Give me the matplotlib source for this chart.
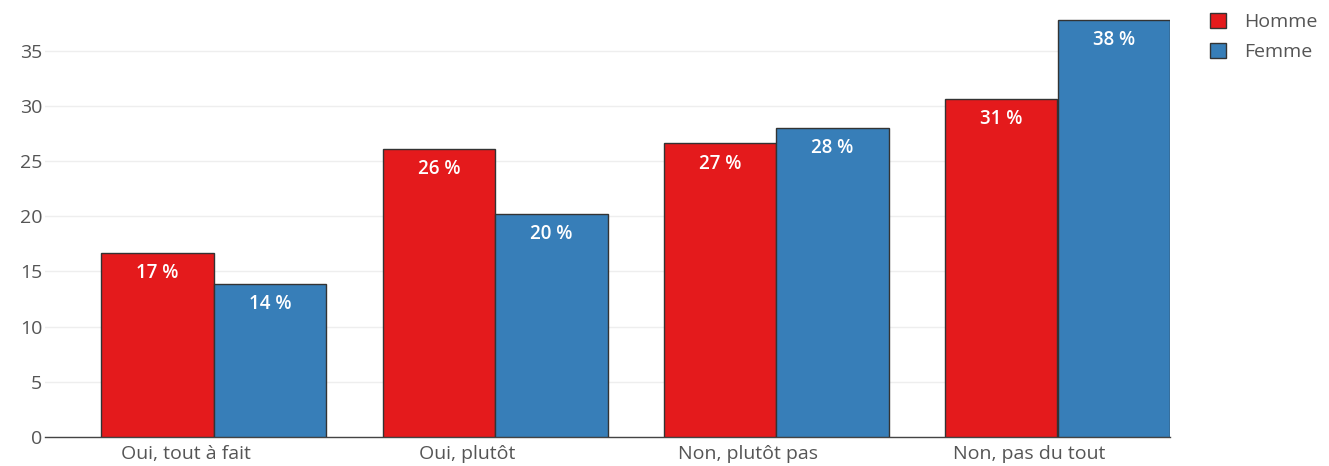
import matplotlib
matplotlib.use("Agg")
import matplotlib.pyplot as plt
import matplotlib.transforms as mtransforms
import numpy as np

categories = ["Oui, tout à fait", "Oui, plutôt", "Non, plutôt pas", "Non, pas du tout"]
homme = [16.7, 26.1, 26.6, 30.6]
femme = [13.9, 20.2, 28.0, 37.8]
series_names = ["Homme", "Femme"]
colors = ["#E41A1C", "#377EB8"]
yticks = [0, 5, 10, 15, 20, 25, 30, 35]

plt.rcParams['font.family'] = ['Open Sans', 'DejaVu Sans']
W, H = 1329, 466
fig = plt.figure(figsize=(W/100, H/100), dpi=100)
ax = fig.add_axes([45/W, 29/H, (1170-45)/W, (437)/H])

x = np.arange(len(categories))
bw = 0.4
for i, (vals, name, c) in enumerate(zip([homme, femme], series_names, colors)):
    pos = x - bw/2 + i*bw
    ax.bar(pos, vals, width=bw, color=c, edgecolor="#333333", linewidth=1.0, label=name, zorder=3)
    for p, v in zip(pos, vals):
        ax.annotate(f"{round(v):.0f} %", (p, v), xytext=(0, -14.5), textcoords="offset points",
                    ha="center", va="center", color="white",
                    fontsize=13.5, fontweight="semibold", zorder=4)

ax.set_xlim(-0.6, 3.4)
ax.set_ylim(0, 39.6)
ax.set_yticks(yticks)
ax.set_xticks(x)
ax.set_xticklabels(categories)
ax.grid(axis="y", color="#eeeeee", linewidth=1, zorder=0)
ax.set_axisbelow(True)
for s in ["top", "right", "left"]:
    ax.spines[s].set_visible(False)
ax.spines["bottom"].set_color("#444444")
ax.spines["bottom"].set_linewidth(1)
ax.tick_params(axis="both", length=0, colors="#555555", labelsize=14)
ax.tick_params(axis="y", pad=2)
ax.tick_params(axis="x", pad=5.5)
shift = mtransforms.ScaledTranslation(-28/100, 0, fig.dpi_scale_trans)
for lbl in ax.get_xticklabels():
    lbl.set_transform(lbl.get_transform() + shift)

leg = fig.legend(loc="upper left", bbox_to_anchor=(1210/W, 1 - 13/H), frameon=False,
                 fontsize=14, handlelength=0.8, handleheight=0.8, handletextpad=0.95,
                 labelspacing=0.62, borderpad=0, borderaxespad=0, labelcolor="#555555")
for h in leg.legend_handles:
    h.set_edgecolor("#333333")

fig.savefig("out.png", dpi=100)
